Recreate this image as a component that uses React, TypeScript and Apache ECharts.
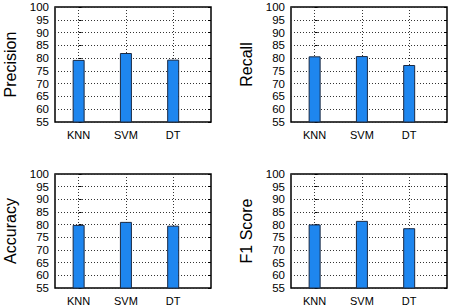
import React, { useEffect, useRef } from "react";
import * as echarts from "echarts";

// Classifier names and the four evaluation metrics (percent)
const classifiers = ["KNN", "SVM", "DT"];
const precision = [79.3, 82.0, 79.4];
const recall = [80.7, 80.8, 77.3];
const accuracy = [79.9, 81.1, 79.6];
const f1Score = [80.1, 81.5, 78.6];
const metricNames = ["Precision", "Recall", "Accuracy", "F1 Score"];
const yTicks = [55, 60, 65, 70, 75, 80, 85, 90, 95, 100];

const metrics = [precision, recall, accuracy, f1Score];

const FONT = "Liberation Sans, Arial, Helvetica, sans-serif";
const GRID_LINE = { color: "#333", type: [1, 2] as number[], width: 1 };

export default function App() {
  const ref = useRef<HTMLDivElement>(null);

  useEffect(() => {
    if (!ref.current) return;
    const chart = echarts.init(ref.current, null, { renderer: "svg" });

    const panels = [
      { left: 55, top: 7 },
      { left: 291, top: 7 },
      { left: 55, top: 174 },
      { left: 291, top: 174 },
    ];
    const catPos = classifiers.map((_, i) => i);

    const grid = panels.map((p) => ({
      left: p.left,
      top: p.top,
      width: 156,
      height: 115,
      show: true,
      borderColor: "#000",
      borderWidth: 1.5,
      backgroundColor: "transparent",
    }));

    const xAxis = panels.map((_, i) => ({
      type: "value" as const,
      gridIndex: i,
      min: -0.5,
      max: 2.8,
      axisLine: { show: false },
      axisTick: { show: false, customValues: catPos },
      axisLabel: {
        customValues: catPos,
        formatter: (v: number) => classifiers[Math.round(v)] ?? "",
        color: "#000",
        fontFamily: FONT,
        fontSize: 11,
        margin: 7,
      },
      splitLine: { show: true, lineStyle: GRID_LINE },
    }));

    const yAxis: any[] = [];
    panels.forEach((_, i) => {
      yAxis.push({
        type: "value",
        gridIndex: i,
        position: "left",
        min: yTicks[0],
        max: yTicks[yTicks.length - 1],
        interval: yTicks[1] - yTicks[0],
        name: metricNames[i],
        nameLocation: "middle",
        nameGap: 37,
        nameTextStyle: { color: "#000", fontFamily: FONT, fontSize: 16 },
        axisLine: { show: false },
        axisTick: { show: true, inside: true, length: 3, lineStyle: { color: "#000" } },
        axisLabel: { color: "#000", fontFamily: FONT, fontSize: 11.5, margin: 6 },
        splitLine: { show: true, lineStyle: GRID_LINE },
      });
      yAxis.push({
        type: "value",
        gridIndex: i,
        position: "right",
        min: yTicks[0],
        max: yTicks[yTicks.length - 1],
        interval: yTicks[1] - yTicks[0],
        axisLine: { show: false },
        axisTick: { show: true, inside: true, length: 3, lineStyle: { color: "#000" } },
        axisLabel: { show: false },
        splitLine: { show: false },
      });
    });

    const series = metrics.map((vals, i) => ({
      type: "bar" as const,
      xAxisIndex: i,
      yAxisIndex: i * 2,
      barWidth: 12,
      clip: true,
      data: vals.map((v, k) => [catPos[k], v]),
      itemStyle: { color: "#1E86EF", borderColor: "#1B2A44", borderWidth: 1 },
      z: 3,
    }));

    chart.setOption({
      animation: false,
      backgroundColor: "#fff",
      grid,
      xAxis,
      yAxis,
      series,
    });

    return () => chart.dispose();
  }, []);

  return (
    <div
      ref={ref}
      style={{ position: "fixed", left: 0, top: 0, width: 457, height: 306 }}
    />
  );
}
